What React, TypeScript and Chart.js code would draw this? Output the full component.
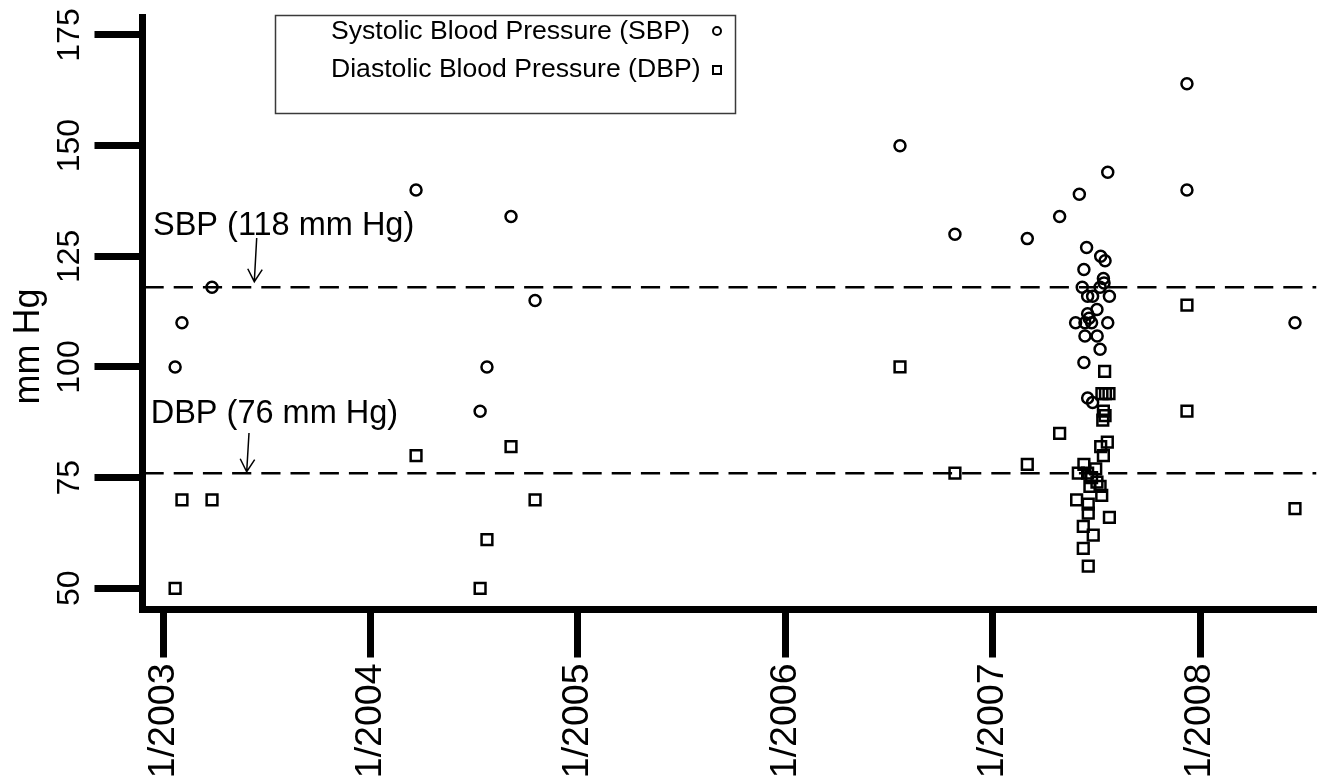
import React, { useEffect, useRef } from 'react';
import { Chart, registerables } from 'chart.js';

Chart.register(...registerables);

const FONT = '"Liberation Sans", Arial, Helvetica, sans-serif';

// ---- data (decimal years, mm Hg) ----
const sbpDates = [
  2003.057, 2003.090, 2003.235, 2004.219, 2004.528, 2004.561, 2004.677, 2004.793,
  2006.553, 2006.818, 2007.167, 2007.323, 2007.418, 2007.555,
  2007.453, 2007.521, 2007.542, 2007.440, 2007.534, 2007.537, 2007.432, 2007.518,
  2007.458, 2007.482, 2007.563, 2007.503, 2007.458, 2007.465, 2007.400, 2007.445,
  2007.477, 2007.555, 2007.445, 2007.504, 2007.518, 2007.440, 2007.458, 2007.482,
  2007.937, 2007.937, 2008.458,
];
const sbpValues = [
  100, 110, 118, 140, 90, 100, 134, 115,
  150, 130, 129, 134, 139, 144,
  127, 125, 124, 122, 120, 119, 118, 118,
  116, 116, 116, 113, 112, 111, 110, 110,
  110, 110, 107, 107, 104, 101, 93, 92,
  164, 140, 110,
];
const dbpDates = [
  2003.057, 2003.090, 2003.235, 2004.219, 2004.528, 2004.561, 2004.677, 2004.793,
  2006.553, 2006.818, 2007.167, 2007.323,
  2007.540, 2007.527, 2007.544, 2007.561, 2007.534, 2007.542, 2007.531, 2007.553,
  2007.521, 2007.534, 2007.440, 2007.497, 2007.413, 2007.458, 2007.477, 2007.503,
  2007.518, 2007.469, 2007.526, 2007.405, 2007.461, 2007.461, 2007.563, 2007.437,
  2007.485, 2007.437, 2007.461,
  2007.937, 2007.937, 2008.458,
];
const dbpValues = [
  50, 70, 70, 80, 50, 61, 82, 70,
  100, 76, 78, 85,
  99, 94, 94, 94, 90, 89, 88, 83,
  82, 80, 78, 77, 76, 76, 75, 74,
  73, 73, 71, 70, 69, 67, 66, 64,
  62, 59, 55,
  114, 90, 68,
];
const seriesLabels = ['Systolic Blood Pressure (SBP)', 'Diastolic Blood Pressure (DBP)'];
const referenceLevels = [118, 76];
const referenceLabels = ['SBP (118 mm Hg)', 'DBP (76 mm Hg)'];
const xTicks = [2003, 2004, 2005, 2006, 2007, 2008];
const xTickLabels = ['1/2003', '1/2004', '1/2005', '1/2006', '1/2007', '1/2008'];
const yTicks = [50, 75, 100, 125, 150, 175];
const yAxisTitle = 'mm Hg';

const xAxisMin = 2002.8997;
const xAxisMax = 2008.5618;
const yAxisMin = 45.211;
const yAxisMax = 178.953;

function drawArrow(ctx: CanvasRenderingContext2D, x1: number, y1: number, x2: number, y2: number) {
  ctx.beginPath();
  ctx.moveTo(x1, y1);
  ctx.lineTo(x2, y2);
  const ang = Math.atan2(y2 - y1, x2 - x1);
  const L = 14.5;
  const a = Math.PI / 6;
  ctx.moveTo(x2 - L * Math.cos(ang - a), y2 - L * Math.sin(ang - a));
  ctx.lineTo(x2, y2);
  ctx.lineTo(x2 - L * Math.cos(ang + a), y2 - L * Math.sin(ang + a));
  ctx.stroke();
}

const overlayPlugin = {
  id: 'overlay',
  afterDraw(chart: any) {
    const ctx: CanvasRenderingContext2D = chart.ctx;
    const yScale = chart.scales.y;
    ctx.save();
    ctx.fillStyle = '#000';
    ctx.strokeStyle = '#000';

    // y axis title
    ctx.save();
    ctx.font = `36px ${FONT}`;
    ctx.textAlign = 'center';
    ctx.textBaseline = 'alphabetic';
    ctx.translate(38.5, 346.5);
    ctx.rotate(-Math.PI / 2);
    ctx.fillText(yAxisTitle, 0, 0);
    ctx.restore();

    // reference line annotations
    const ann = [
      { textX: 153, textDy: -52.8, ax1: 256.7, ay1: -49.3, ax2: 254.3, ay2: -5.6 },
      { textX: 150.7, textDy: -50.4, ax1: 249, ay1: -40.2, ax2: 246.7, ay2: -1.5 },
    ];
    ctx.font = `32.5px ${FONT}`;
    ctx.textAlign = 'left';
    ctx.textBaseline = 'alphabetic';
    ctx.lineWidth = 1.5;
    referenceLevels.forEach((lvl, i) => {
      const ly = yScale.getPixelForValue(lvl);
      const a = ann[i];
      ctx.fillText(referenceLabels[i], a.textX, ly + a.textDy);
      drawArrow(ctx, a.ax1, ly + a.ay1, a.ax2, ly + a.ay2);
    });

    // legend
    ctx.lineWidth = 1.5;
    ctx.strokeStyle = '#3a3a3a';
    ctx.strokeRect(275.5, 15.5, 460, 98);
    ctx.strokeStyle = '#000';
    ctx.font = `26.6px ${FONT}`;
    ctx.textBaseline = 'middle';
    ctx.fillText(seriesLabels[0], 331, 32);
    ctx.fillText(seriesLabels[1], 331, 70);
    ctx.lineWidth = 2;
    ctx.beginPath();
    ctx.arc(717, 31, 4, 0, Math.PI * 2);
    ctx.stroke();
    ctx.strokeRect(713, 66, 8, 8);
    ctx.restore();
  },
};

export default function App() {
  const canvasRef = useRef<HTMLCanvasElement>(null);

  useEffect(() => {
    const canvas = canvasRef.current;
    if (!canvas) return;
    const refDatasets = referenceLevels.map((lvl) => ({
      label: 'ref' + lvl,
      data: [
        { x: xAxisMin, y: lvl },
        { x: xAxisMax, y: lvl },
      ],
      showLine: true,
      borderColor: '#000',
      borderWidth: 2.5,
      borderDash: [19.2, 10],
      borderDashOffset: 27.2,
      pointRadius: 0,
      pointHoverRadius: 0,
      fill: false,
      tension: 0,
    }));
    const chart = new Chart(canvas, {
      type: 'scatter',
      data: {
        datasets: [
          ...refDatasets,
          {
            label: seriesLabels[0],
            data: sbpDates.map((d, i) => ({ x: d, y: sbpValues[i] })),
            pointStyle: 'circle',
            pointRadius: 5.5,
            radius: 5.5,
            pointBorderWidth: 2.5,
            borderWidth: 2.5,
            pointBorderColor: '#000',
            pointBackgroundColor: 'rgba(0,0,0,0)',
            borderColor: '#000',
            backgroundColor: 'rgba(0,0,0,0)',
          },
          {
            label: seriesLabels[1],
            data: dbpDates.map((d, i) => ({ x: d, y: dbpValues[i] })),
            pointStyle: 'rect',
            pointRadius: 7.6,
            radius: 7.6,
            pointBorderWidth: 2.5,
            borderWidth: 2.5,
            pointBorderColor: '#000',
            pointBackgroundColor: 'rgba(0,0,0,0)',
            borderColor: '#000',
            backgroundColor: 'rgba(0,0,0,0)',
          },
        ] as any,
      },
      options: {
        animation: false,
        responsive: false,
        devicePixelRatio: 1,
        events: [],
        layout: { padding: { left: 0, top: 17.5, right: 10.5, bottom: 0 } },
        plugins: {
          legend: { display: false },
          tooltip: { enabled: false },
          title: { display: false },
        },
        scales: {
          x: {
            type: 'linear',
            min: xAxisMin,
            max: xAxisMax,
            afterBuildTicks: (axis: any) => {
              axis.ticks = xTicks.map((v) => ({ value: v }));
            },
            afterFit: (axis: any) => {
              axis.height = 174.5;
              axis.paddingLeft = 0;
              axis.paddingRight = 0;
              axis.paddingTop = 0;
              axis.paddingBottom = 0;
            },
            ticks: {
              autoSkip: false,
              minRotation: 90,
              maxRotation: 90,
              padding: 6,
              color: '#000',
              font: { family: FONT, size: 37.5 },
              callback: (v: any) => {
                const i = xTicks.indexOf(Number(v));
                return i >= 0 ? xTickLabels[i] : '';
              },
            },
            grid: {
              display: true,
              drawOnChartArea: false,
              drawTicks: true,
              tickLength: 48,
              tickWidth: 7,
              tickColor: '#000',
            },
            border: { display: true, width: 7, color: '#000' },
          },
          y: {
            type: 'linear',
            min: yAxisMin,
            max: yAxisMax,
            afterBuildTicks: (axis: any) => {
              axis.ticks = yTicks.map((v) => ({ value: v }));
            },
            afterFit: (axis: any) => {
              axis.width = 142.5;
              axis.paddingLeft = 0;
              axis.paddingRight = 0;
              axis.paddingTop = 0;
              axis.paddingBottom = 0;
            },
            ticks: {
              autoSkip: false,
              minRotation: 90,
              maxRotation: 90,
              crossAlign: 'center',
              padding: -2,
              color: '#000',
              font: { family: FONT, size: 32 },
              callback: (v: any) => String(v),
            },
            grid: {
              display: true,
              drawOnChartArea: false,
              drawTicks: true,
              tickLength: 48,
              tickWidth: 7,
              tickColor: '#000',
            },
            border: { display: true, width: 7, color: '#000' },
          },
        },
      } as any,
      plugins: [overlayPlugin],
    });
    return () => chart.destroy();
  }, []);

  return (
    <div style={{ position: 'absolute', left: 0, top: 0, width: 1327, height: 784, background: '#fff' }}>
      <canvas ref={canvasRef} width={1327} height={784} style={{ display: 'block', width: 1327, height: 784 }} />
    </div>
  );
}
